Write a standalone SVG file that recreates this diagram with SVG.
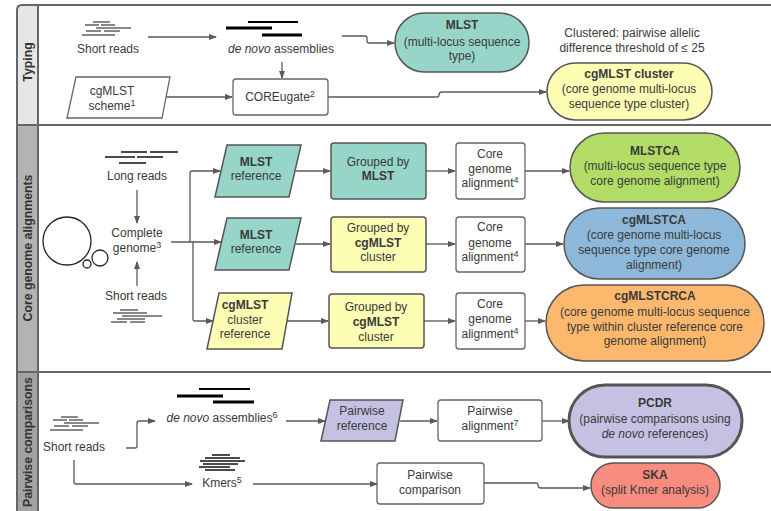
<svg xmlns="http://www.w3.org/2000/svg" width="771" height="511" viewBox="0 0 771 511">
<style>
text{font-family:"Liberation Sans",Arial,sans-serif;font-size:12px;fill:#3a3a3a;text-anchor:middle}
.b{font-weight:bold}
.sup{font-size:9px}
.lab{font-weight:bold;font-size:12.3px;fill:#333}
.box{fill:#fff;stroke:#666;stroke-width:1.3}
.node{stroke:#555;stroke-width:1.5}
.teal{fill:#97d5c9}
.yel{fill:#fdfdb3}
.con{fill:none;stroke:#5a5a5a;stroke-width:1.3}
.rd{stroke:#111;stroke-width:1}
.rd2{stroke:#111;stroke-width:1.5}
.thin{stroke:#000;stroke-width:2}
.thick{stroke:#000;stroke-width:3.2}
.frame{stroke:#666;stroke-width:2;fill:none}
</style>
<defs>
<marker id="ah" markerWidth="8" markerHeight="6" refX="7" refY="3" orient="auto" markerUnits="userSpaceOnUse">
<path d="M0,0 L8,3 L0,6 z" fill="#5a5a5a"/>
</marker>
</defs>

<g id="frame">
<rect x="17" y="5" width="21" height="120" fill="#e6e6e6"/>
<rect x="17" y="125" width="21" height="247" fill="#b3b3b3"/>
<rect x="17" y="372" width="21" height="139" fill="#a3a3a3"/>
<path class="frame" d="M771 5 H22 Q17 5 17 10 V511"/>
<path class="frame" d="M38 5 V511"/>
<path class="frame" d="M17 125 H771 M17 372 H771"/>
<text class="lab" transform="translate(32,62) rotate(-90)">Typing</text>
<text class="lab" transform="translate(32,248) rotate(-90)">Core genome alignments</text>
<text class="lab" transform="translate(32,442) rotate(-90)">Pairwise comparisons</text>
</g>

<g id="connectors">
<path class="con" marker-end="url(#ah)" d="M148 37 H216"/>
<path class="con" marker-end="url(#ah)" d="M342 36 H365 Q367 36 367 38 V41 Q367 43 369 43 H394"/>
<path class="con" marker-end="url(#ah)" d="M282 62 V78"/>
<path class="con" marker-end="url(#ah)" d="M166 97 H232"/>
<path class="con" marker-end="url(#ah)" d="M328 97 H437 Q439 97 439 95 Q439 92 442 92 H546"/>
<path class="con" marker-end="url(#ah)" d="M137 190 V223"/>
<path class="con" marker-end="url(#ah)" d="M137 286 V262"/>
<path class="con" marker-end="url(#ah)" d="M171 242 H221"/>
<path class="con" marker-end="url(#ah)" d="M190 242 V173 Q190 171 192 171 H220"/>
<path class="con" marker-end="url(#ah)" d="M193 242 V319 Q193 321 195 321 H213"/>
<path class="con" marker-end="url(#ah)" d="M296 171 H330"/>
<path class="con" marker-end="url(#ah)" d="M296 244 H330"/>
<path class="con" marker-end="url(#ah)" d="M285 321 H328"/>
<path class="con" marker-end="url(#ah)" d="M426 171 H455"/>
<path class="con" marker-end="url(#ah)" d="M426 244 H455"/>
<path class="con" marker-end="url(#ah)" d="M424 321 H455"/>
<path class="con" marker-end="url(#ah)" d="M525 171 H569"/>
<path class="con" marker-end="url(#ah)" d="M525 244 H563"/>
<path class="con" marker-end="url(#ah)" d="M525 321 H545"/>
<path class="con" marker-end="url(#ah)" d="M126 448 H135 Q137 448 137 446 V423 Q137 421 139 421 H155"/>
<path class="con" marker-end="url(#ah)" d="M286 421 H325"/>
<path class="con" marker-end="url(#ah)" d="M400 421 H437"/>
<path class="con" marker-end="url(#ah)" d="M542 421 H569"/>
<path class="con" marker-end="url(#ah)" d="M74 460 V482 Q74 484 76 484 H192"/>
<path class="con" marker-end="url(#ah)" d="M253 484 H377"/>
<path class="con" marker-end="url(#ah)" d="M484 483 H536 Q538 483 538 485 Q538 488 541 488 H590"/>
</g>

<g id="short-reads-typing">
<path class="rd" d="M93 22h17 M85 25h14 M101 25h14 M96 28h35 M86 31h15 M104 31h16 M82 35h33"/>
<text x="108" y="53">Short reads</text>
</g>

<g id="denovo-typing">
<path class="thin" d="M248 22H298"/>
<path class="thick" d="M226 28H272 M262 35H302"/>
<text x="281" y="53"><tspan font-style="italic">de novo</tspan> assemblies</text>
</g>

<g id="mlst">
<rect class="node teal" x="395" y="13" width="134" height="59" rx="29.5"/>
<text x="462" y="29" class="b">MLST</text>
<text x="462" y="46">(multi-locus sequence</text>
<text x="462" y="60">type)</text>
</g>

<g id="clustered-note">
<text x="632" y="37" fill="#444">Clustered: pairwise allelic</text>
<text x="632" y="52" fill="#444">difference threshold of ≤ 25</text>
</g>

<g id="cgmlst-scheme">
<polygon class="box" points="76,77 170,77 162,118 67,118"/>
<text x="112" y="95">cgMLST</text>
<text x="112" y="110">scheme<tspan class="sup" dy="-4">1</tspan></text>
</g>

<g id="coreugate">
<rect class="box" x="233" y="79" width="95" height="36" rx="3"/>
<text x="280" y="101">COREugate<tspan class="sup" dy="-4">2</tspan></text>
</g>

<g id="cgmlst-cluster">
<rect class="node yel" x="547" y="63" width="165" height="57" rx="28.5"/>
<text x="629" y="78" class="b">cgMLST cluster</text>
<text x="629" y="93">(core genome multi-locus</text>
<text x="629" y="108">sequence type cluster)</text>
</g>

<g id="long-reads">
<path class="rd2" d="M121 152h26 M150 152h28 M105 157h30 M137 157h26 M119 163h27"/>
<text x="137" y="180">Long reads</text>
</g>

<g id="complete-genome">
<circle cx="67" cy="241" r="24" fill="none" stroke="#222" stroke-width="1.3"/>
<circle cx="100" cy="258" r="8" fill="none" stroke="#222" stroke-width="1.3"/>
<circle cx="87" cy="264" r="4" fill="none" stroke="#222" stroke-width="1.3"/>
<text x="137" y="237">Complete</text>
<text x="137" y="252">genome<tspan class="sup" dy="-4">3</tspan></text>
</g>

<g id="short-reads-core">
<text x="136" y="300">Short reads</text>
<path class="rd" d="M120 310h18 M113 313h34 M122 316h40 M117 319h28 M111 322h16 M130 322h15"/>
</g>

<g id="mlst-reference-1">
<polygon class="node teal" points="227,145 301,145 289,197 215,197"/>
<text x="256" y="166" class="b">MLST</text>
<text x="256" y="180">reference</text>
</g>

<g id="mlst-reference-2">
<polygon class="node teal" points="227,218 301,218 289,270 215,270"/>
<text x="256" y="239" class="b">MLST</text>
<text x="256" y="253">reference</text>
</g>

<g id="cgmlst-cluster-reference">
<polygon class="node yel" points="219,293 292,293 282,349 207,349"/>
<text x="245" y="309" class="b">cgMLST</text>
<text x="245" y="324">cluster</text>
<text x="245" y="338">reference</text>
</g>

<g id="grouped-mlst">
<rect class="node teal" x="331" y="143" width="95" height="56" rx="3"/>
<text x="378" y="166">Grouped by</text>
<text x="378" y="180" class="b">MLST</text>
</g>

<g id="grouped-cgmlst-1">
<rect class="node yel" x="331" y="217" width="95" height="55" rx="3"/>
<text x="378" y="232">Grouped by</text>
<text x="378" y="247" class="b">cgMLST</text>
<text x="378" y="261">cluster</text>
</g>

<g id="grouped-cgmlst-2">
<rect class="node yel" x="329" y="294" width="95" height="54" rx="3"/>
<text x="376" y="311">Grouped by</text>
<text x="376" y="326" class="b">cgMLST</text>
<text x="376" y="341">cluster</text>
</g>

<g id="core-alignment-1">
<rect class="box" x="456" y="143" width="69" height="56" rx="3"/>
<text x="490" y="158">Core</text>
<text x="490" y="173">genome</text>
<text x="490" y="187">alignment<tspan class="sup" dy="-4">4</tspan></text>
</g>

<g id="core-alignment-2">
<rect class="box" x="456" y="217" width="69" height="55" rx="3"/>
<text x="490" y="231">Core</text>
<text x="490" y="247">genome</text>
<text x="490" y="261">alignment<tspan class="sup" dy="-4">4</tspan></text>
</g>

<g id="core-alignment-3">
<rect class="box" x="456" y="293" width="69" height="56" rx="3"/>
<text x="490" y="308">Core</text>
<text x="490" y="323">genome</text>
<text x="490" y="338">alignment<tspan class="sup" dy="-4">4</tspan></text>
</g>

<g id="mlstca">
<rect class="node" fill="#b3dc67" x="570" y="133" width="170" height="69" rx="34.5"/>
<text x="655" y="155" class="b">MLSTCA</text>
<text x="655" y="170">(multi-locus sequence type</text>
<text x="655" y="185">core genome alignment)</text>
</g>

<g id="cgmlstca">
<rect class="node" fill="#8db8d9" x="564" y="208" width="181" height="71" rx="35.5"/>
<text x="654" y="224" class="b">cgMLSTCA</text>
<text x="654" y="239">(core genome multi-locus</text>
<text x="654" y="254">sequence type core genome</text>
<text x="654" y="269">alignment)</text>
</g>

<g id="cgmlstcrca">
<rect class="node" fill="#fdb86e" x="546" y="285" width="218" height="76" rx="38"/>
<text x="655" y="300" class="b">cgMLSTCRCA</text>
<text x="655" y="316">(core genome multi-locus sequence</text>
<text x="655" y="331">type within cluster reference core</text>
<text x="655" y="345">genome alignment)</text>
</g>

<g id="short-reads-pairwise">
<path class="rd" d="M61 417h17 M53 420h14 M69 420h14 M64 423h35 M54 426h15 M72 426h16 M50 430h33"/>
<text x="74" y="451">Short reads</text>
</g>

<g id="denovo-pairwise">
<path class="thin" d="M199 389H250"/>
<path class="thick" d="M177 396H223 M213 402H254"/>
<text x="222" y="422"><tspan font-style="italic">de novo</tspan> assemblies<tspan class="sup" dy="-4">6</tspan></text>
</g>

<g id="pairwise-reference">
<polygon class="node" fill="#c5c1e2" points="330,400 403,400 395,441 321,441"/>
<text x="362" y="415">Pairwise</text>
<text x="362" y="430">reference</text>
</g>

<g id="pairwise-alignment">
<rect class="box" x="438" y="400" width="104" height="41" rx="3"/>
<text x="490" y="415">Pairwise</text>
<text x="490" y="430">alignment<tspan class="sup" dy="-4">7</tspan></text>
</g>

<g id="pcdr">
<rect fill="#c5c1e2" stroke="#555" stroke-width="3" x="569" y="385" width="173" height="72" rx="36"/>
<text x="655" y="407" class="b">PCDR</text>
<text x="655" y="423">(pairwise comparisons using</text>
<text x="655" y="438"><tspan font-style="italic">de novo</tspan> references)</text>
</g>

<g id="kmers">
<path class="rd2" d="M212 455h18 M205 458h35 M200 461h45 M203 464h35 M199 467h31 M205 470h30"/>
<text x="222" y="487">Kmers<tspan class="sup" dy="-4">5</tspan></text>
</g>

<g id="pairwise-comparison">
<rect class="box" x="377" y="463" width="107" height="41" rx="3"/>
<text x="430" y="479">Pairwise</text>
<text x="430" y="494">comparison</text>
</g>

<g id="ska">
<rect class="node" fill="#f88d7f" x="591" y="463" width="129" height="45" rx="22.5"/>
<text x="655" y="479" class="b">SKA</text>
<text x="655" y="494">(split Kmer analysis)</text>
</g>
</svg>
